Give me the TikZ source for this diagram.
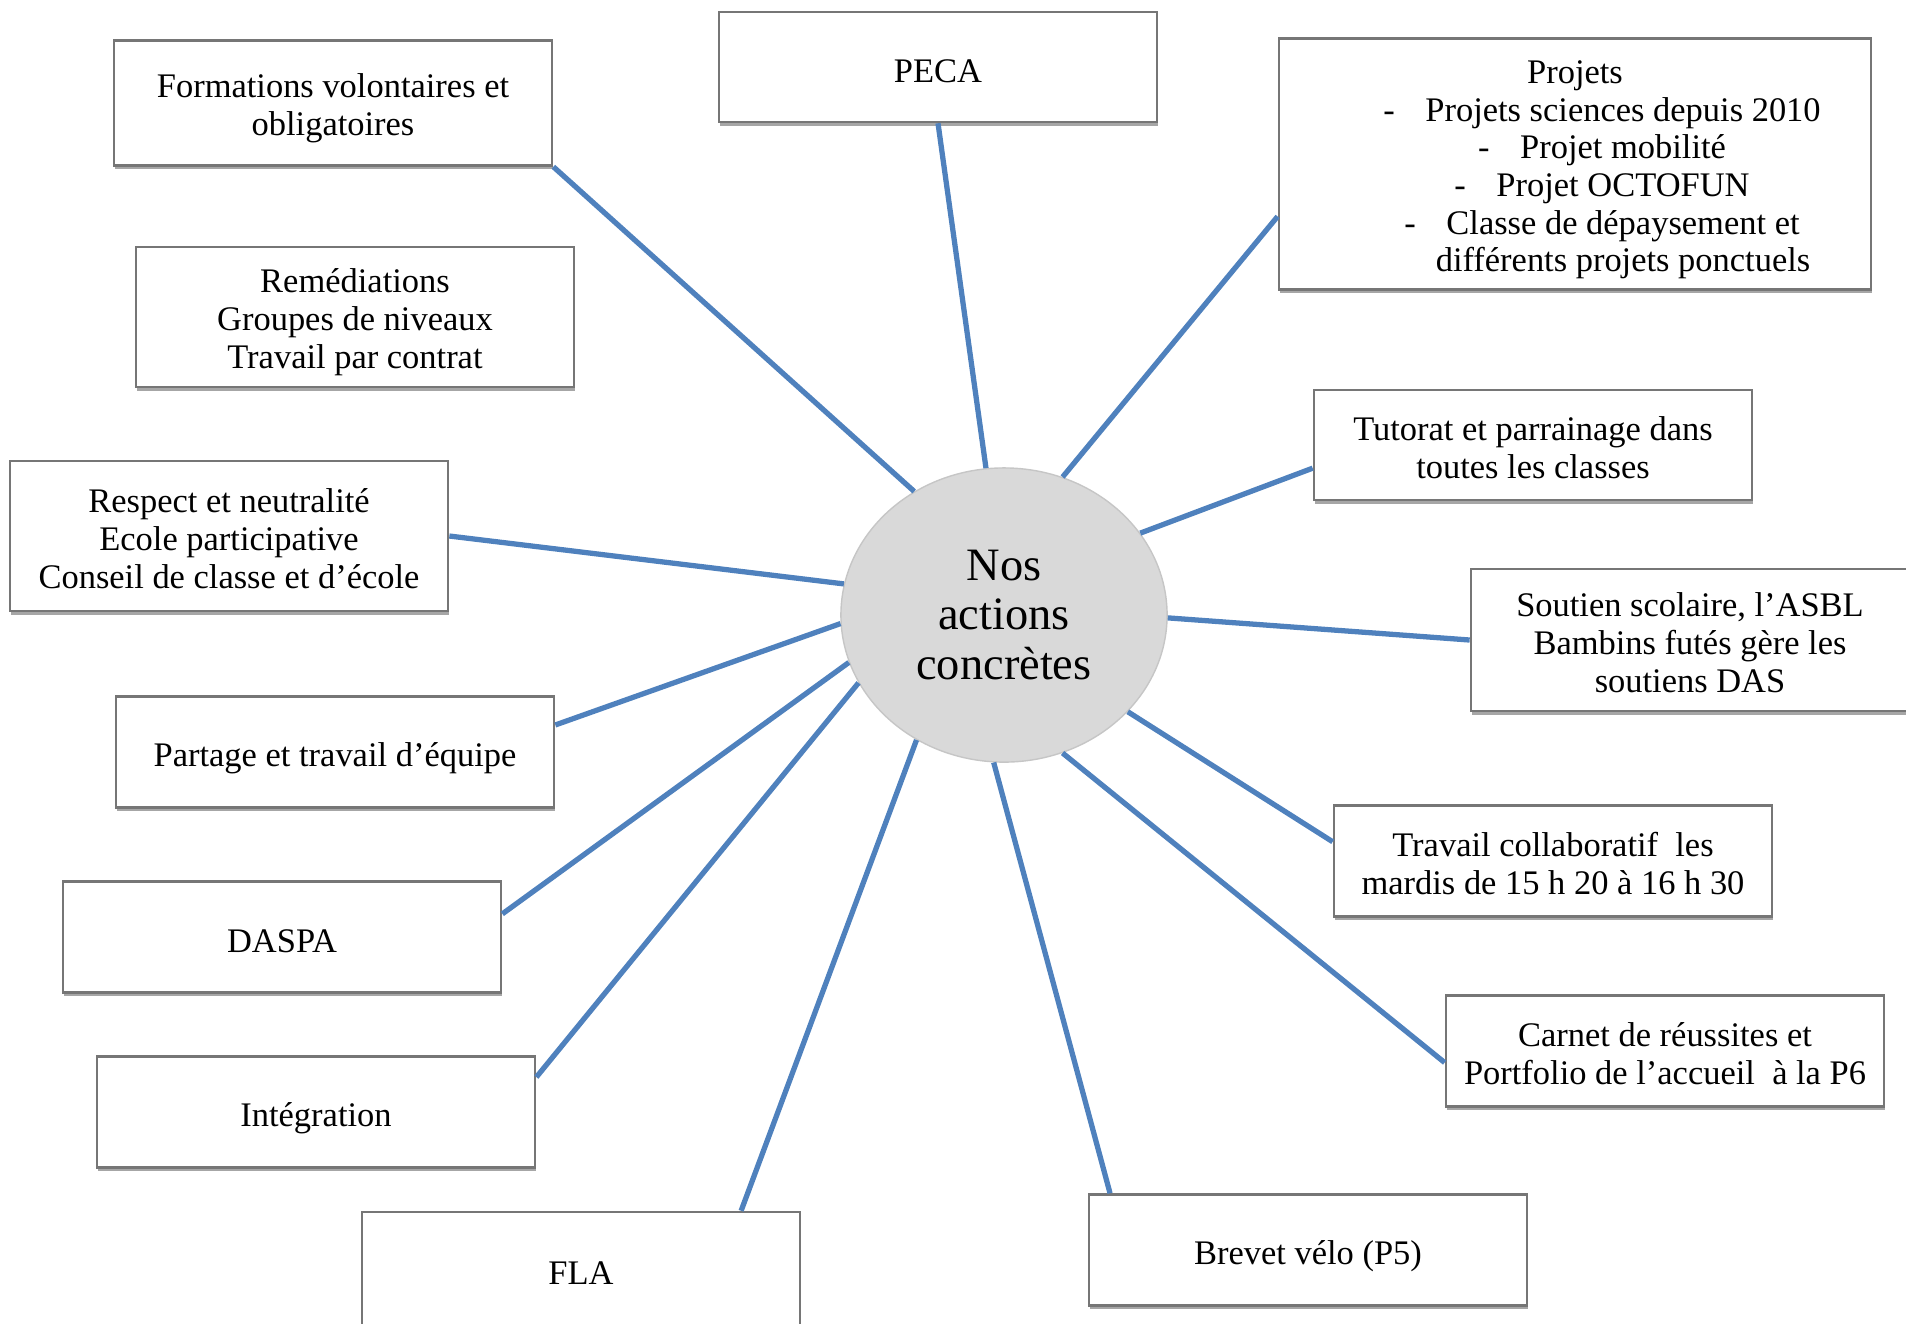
\documentclass[tikz,border=0pt]{standalone}
\usepackage{fontspec}
\setmainfont{Liberation Serif}
\usetikzlibrary{shapes.geometric,shadows}
\definecolor{linkblue}{HTML}{4F81BD}
\definecolor{boxgray}{HTML}{767676}
\definecolor{bubblegray}{HTML}{D9D9D9}
\newcommand\boxstrut{\rule[-1.5pt]{0pt}{12pt}}
\newcommand\tallstrut{\rule{0pt}{9.8pt}}

\begin{document}
\begin{tikzpicture}[x=0.01cm,y=-0.01cm]
		\tikzstyle{box} = [rectangle, draw=boxgray, line width=0.7pt, fill=white, align=center,
			minimum width=4.38cm, minimum height=1.11cm, inner sep=2pt,
			font=\fontsize{9.8}{10.7}\selectfont,
			execute at begin node=\boxstrut, execute at end node=\boxstrut,
			drop shadow={shadow xshift=0.1mm, shadow yshift=-0.35mm, opacity=0.35, fill=black}]
		\tikzstyle{link} = [draw=linkblue, line width=1.5pt]
		\useasboundingbox (0,0) rectangle (1906,1323);

		\node[ellipse, draw=gray!45, fill=bubblegray, minimum width=3.26cm, minimum height=2.94cm,
			inner sep=0pt, align=center, font=\fontsize{13.2}{14.2}\selectfont] (actions) at (1004,615) {Nos\\actions\\concrètes};

		\node[box, minimum height=1.25cm] (form) at (333,103) {\tallstrut Formations volontaires et\\obligatoires};
		\node[box, minimum height=1.10cm] (peca) at (938,67) {PECA};
		\node[box, minimum width=5.92cm, minimum height=2.51cm] (proj) at (1575,164)
			{\tallstrut Projets\\
			\hspace*{0.54cm}\makebox[0.42cm][l]{-}Projets sciences depuis 2010\\
			\hspace*{0.54cm}\makebox[0.42cm][l]{-}Projet mobilité\\
			\hspace*{0.54cm}\makebox[0.42cm][l]{-}Projet OCTOFUN\\
			\hspace*{0.54cm}\makebox[0.42cm][l]{-}Classe de dépaysement et\\
			\hspace*{0.96cm}différents projets ponctuels};
		\node[box, minimum height=1.40cm] (remed) at (355,317) {\tallstrut Remédiations\\Groupes de niveaux\\Travail par contrat};
		\node[box, minimum height=1.10cm] (tutor) at (1533,445) {\tallstrut Tutorat et parrainage dans\\toutes les classes};
		\node[box, minimum height=1.50cm] (respect) at (229,536) {\tallstrut Respect et neutralité\\Ecole participative\\Conseil de classe et d’école};
		\node[box, minimum height=1.42cm] (soutien) at (1690,640) {\tallstrut Soutien scolaire, l’ASBL\\Bambins futés gère les\\soutiens DAS};
		\node[box] (partage) at (335,752) {Partage et travail d’équipe};
		\node[box] (collab) at (1553,861) {\tallstrut Travail collaboratif~ les\\mardis de 15 h 20 à 16 h 30};
		\node[box] (daspa) at (282,937) {DASPA};
		\node[box] (carnet) at (1665,1051) {\tallstrut Carnet de réussites et\\Portfolio de l’accueil~ à la P6};
		\node[box] (integr) at (316,1112) {Intégration};
		\node[box, minimum height=1.14cm] (fla) at (581,1269) {FLA};
		\node[box] (brevet) at (1308,1250) {Brevet vélo (P5)};

		\draw[link] (form.south east) -- (actions.126.6);
		\draw[link] (peca.south) -- (actions.97.6);
		\draw[link] (proj.190) -- (actions.67);
		\draw[link] (tutor.186) -- (actions.31.5);
		\draw[link] (respect.east) -- (actions.169.4);
		\draw[link] (soutien.west) -- (actions.-1);
		\draw[link] (partage.7) -- (actions.183.8);
		\draw[link] (collab.175) -- (actions.-38.1);
		\draw[link] (daspa.6.2) -- (actions.197.3);
		\draw[link] (carnet.183.6) -- (actions.-67.6);
		\draw[link] (integr.9) -- (actions.205.1);
		\draw[link] (fla.20.5) -- (actions.235);
		\draw[link] (brevet.164) -- (actions.266.4);
\end{tikzpicture}
\end{document}
